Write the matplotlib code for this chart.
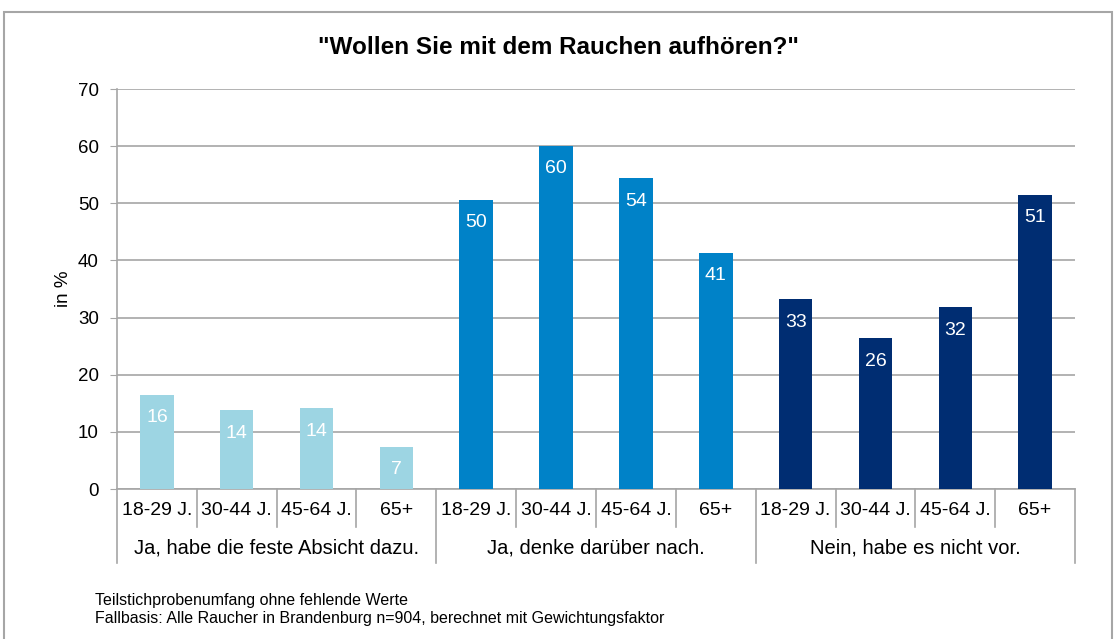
import matplotlib.pyplot as plt
import matplotlib.transforms as mtransforms
from matplotlib.patches import Rectangle

plt.rcParams['font.family'] = ['Liberation Sans', 'DejaVu Sans']

# data
age_groups = ["18-29 J.", "30-44 J.", "45-64 J.", "65+"]
answers = ["Ja, habe die feste Absicht dazu.", "Ja, denke darüber nach.", "Nein, habe es nicht vor."]
values = [
    [16.5, 13.8, 14.1, 7.4],
    [50.6, 60.1, 54.4, 41.3],
    [33.2, 26.4, 31.8, 51.5],
]
labels = [
    [16, 14, 14, 7],
    [50, 60, 54, 41],
    [33, 26, 32, 51],
]
colors = ["#9DD5E3", "#0082C8", "#002D72"]

fig = plt.figure(figsize=(11.16, 6.39), dpi=100)
ax = fig.add_axes([0.1048, 0.2347, 0.8585, 0.626])

# outer frame
fig.patches.append(Rectangle((4 / 1116, -0.05), 1108 / 1116, 1.05 - 12 / 639,
                             transform=fig.transFigure, fill=False,
                             edgecolor="#A6A6A6", linewidth=1.5))

n = len(age_groups)
for g, (vals, labs) in enumerate(zip(values, labels)):
    xs = [g * n + i for i in range(n)]
    ax.bar(xs, vals, width=0.42, color=colors[g], zorder=3)
    for x, v, lab in zip(xs, vals, labs):
        ax.annotate(str(lab), (x, v), xytext=(0, -16.5), textcoords="offset points",
                    ha="center", va="center", color="white", fontsize=14, zorder=4)

ax.set_xlim(-0.5, 3 * n - 0.5)
ax.set_ylim(0, 70)
ax.set_yticks(range(0, 71, 10))
ax.yaxis.grid(True, color="#A6A6A6", linewidth=1.2, zorder=0)
ax.set_axisbelow(True)
ax.tick_params(axis="y", labelsize=13.5, length=5, color="#A6A6A6", pad=8)
ax.set_xticks([])
for s in ["top", "right"]:
    ax.spines[s].set_visible(False)
for s in ["left", "bottom"]:
    ax.spines[s].set_color("#A6A6A6")
    ax.spines[s].set_linewidth(1.2)
ax.set_ylabel("in %", fontsize=13.5, labelpad=4)

# two-level category axis
trans = mtransforms.blended_transform_factory(ax.transData, ax.transAxes)
for k in range(3 * n + 1):
    low = -0.185 if k % n == 0 else -0.095
    ax.plot([k - 0.5, k - 0.5], [0, low], transform=trans, color="#A6A6A6",
            linewidth=1.2, clip_on=False)
for g, name in enumerate(answers):
    for i, age in enumerate(age_groups):
        ax.text(g * n + i, -0.053, age, transform=trans, ha="center", va="center", fontsize=14)
    ax.text(g * n + (n - 1) / 2, -0.148, name, transform=trans, ha="center", va="center", fontsize=14.5)

fig.text(0.5, 1 - 48 / 639, '"Wollen Sie mit dem Rauchen aufhören?"', ha="center", va="center",
         fontsize=17.5, fontweight="bold")
fig.text(95 / 1116, 1 - 600 / 639, "Teilstichprobenumfang ohne fehlende Werte", ha="left", va="center", fontsize=11.5)
fig.text(95 / 1116, 1 - 618 / 639, "Fallbasis: Alle Raucher in Brandenburg n=904, berechnet mit Gewichtungsfaktor",
         ha="left", va="center", fontsize=11.5)

fig.savefig("out.png", dpi=100)
